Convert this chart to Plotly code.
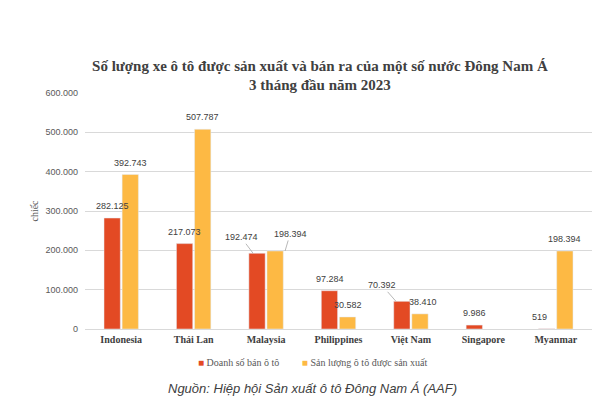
import plotly.graph_objects as go

countries = ["Indonesia", "Thái Lan", "Malaysia", "Philippines", "Việt Nam", "Singapore", "Myanmar"]
doanh_so = [282125, 217073, 192474, 97284, 70392, 9986, 519]
san_luong = [392743, 507787, 198394, 30582, 38410, None, 198394]

# labels pulled away from the bar with a leader line: (tip xshift, ax, ay)
leader_red = {"Malaysia": (-4, -12, -16), "Việt Nam": (-6, -14, -16)}
leader_yellow = {"Malaysia": (10, 5, -17)}
# small sideways nudges of plain labels
nudge_red = {"Myanmar": -7}
nudge_yellow = {"Việt Nam": 3}

RED = "#E34A24"
YELLOW = "#FDB944"
LABEL_FONT = dict(family="Liberation Sans", size=9, color="#404040")


def fmt(v):
    return f"{v:,}".replace(",", ".")


fig = go.Figure()
fig.add_trace(go.Bar(x=countries, y=doanh_so, name="Doanh số bán ô tô",
                     marker_color=RED, showlegend=False))
fig.add_trace(go.Bar(x=countries, y=san_luong, name="Sản lượng ô tô được sản xuất",
                     marker_color=YELLOW, showlegend=False))

annots = []
for values, side, leaders, nudges in ((doanh_so, -9, leader_red, nudge_red),
                                      (san_luong, 9, leader_yellow, nudge_yellow)):
    for c, v in zip(countries, values):
        if v is None:
            continue
        if c in leaders:
            xs, ax, ay = leaders[c]
            annots.append(dict(
                x=c, y=v, xref="x", yref="y", xshift=side + xs, text=fmt(v),
                showarrow=True, arrowhead=0, arrowwidth=0.8, arrowcolor="#A6A6A6",
                ax=ax, ay=ay, standoff=0, font=LABEL_FONT,
            ))
        else:
            annots.append(dict(
                x=c, y=v, xref="x", yref="y", xshift=side + nudges.get(c, 0),
                yshift=5, text=fmt(v), showarrow=False, yanchor="bottom",
                font=LABEL_FONT,
            ))

# legend row
annots.append(dict(
    x=0.45, y=-0.144, xref="paper", yref="paper", showarrow=False,
    text=(f'<span style="color:{RED}">■</span> Doanh số bán ô tô'
          f'         <span style="color:{YELLOW}">■</span> Sản lượng ô tô được sản xuất'),
    font=dict(family="Liberation Serif", size=10, color="#595959"),
    xanchor="center", yanchor="middle",
))
annots.append(dict(
    x=0.448, y=-0.254, xref="paper", yref="paper", showarrow=False,
    text="<i>Nguồn: Hiệp hội Sản xuất ô tô Đông Nam Á (AAF)</i>",
    font=dict(family="Liberation Sans", size=13, color="#404040"),
    xanchor="center", yanchor="middle",
))

fig.update_layout(
    width=608, height=407,
    margin=dict(l=77, r=24, t=85, b=86),
    paper_bgcolor="white", plot_bgcolor="white",
    separators=",.",
    barmode="group", bargap=0.5, bargroupgap=0.1,
    title=dict(
        text="<b>Số lượng xe ô tô được sản xuất và bán ra của một số nước Đông Nam Á<br>3 tháng đầu năm 2023</b>",
        x=0.513, xref="container", xanchor="center",
        y=0.846, yref="container", yanchor="middle",
        font=dict(family="Liberation Serif", size=15, color="#404040"),
    ),
    annotations=annots,
)

fig.update_yaxes(
    range=[0, 600000], dtick=100000, tickformat=",d",
    showgrid=True, gridcolor="#D9D9D9", gridwidth=1,
    zeroline=True, zerolinecolor="#D9D9D9", zerolinewidth=1,
    tickfont=dict(family="Liberation Sans", size=9, color="#595959"),
    ticklabelstandoff=6,
    title=dict(text="chiếc", standoff=4,
               font=dict(family="Liberation Serif", size=10, color="#595959")),
)
fig.update_xaxes(
    showgrid=False, showline=False, ticklabelstandoff=3,
    tickfont=dict(family="Liberation Serif", size=10, color="#404040"),
    tickprefix="<b>", ticksuffix="</b>",
)

fig.write_html("out.html")
